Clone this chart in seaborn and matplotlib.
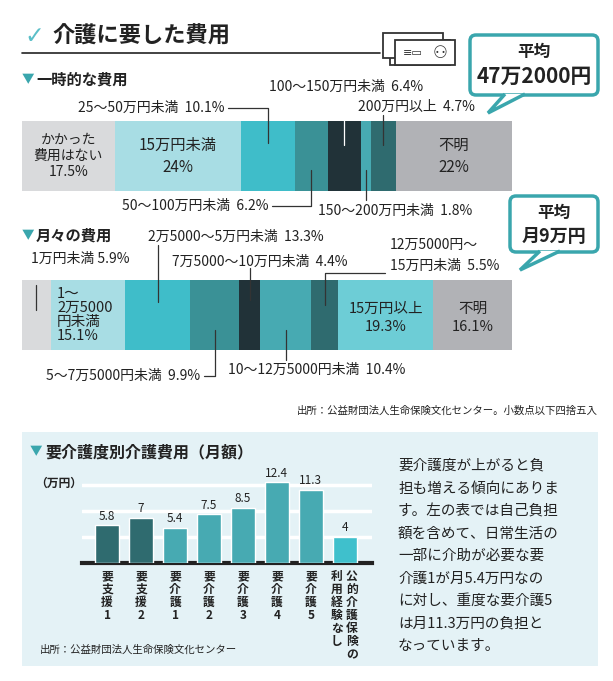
import numpy as np
import matplotlib
matplotlib.use("Agg")
import matplotlib.pyplot as plt
import seaborn as sns
import pandas as pd
from matplotlib.patches import Rectangle, FancyBboxPatch, Polygon

sns.set_theme(style="white")
plt.rcParams['font.family'] = ['Noto Sans CJK JP', 'DejaVu Sans']

W, H = 613, 681

# data
once_labels = ["かかった\n費用はない", "15万円未満", "25～50万円未満", "50～100万円未満", "100～150万円未満",
               "150～200万円未満", "200万円以上", "不明"]
once_vals = [17.5, 24, 10.1, 6.2, 6.4, 1.8, 4.7, 22]
once_colors = ["#d9dadc", "#a8dde4", "#3fbdc9", "#3a9196", "#213238", "#47aab2", "#2f6b6f", "#b1b2b6"]

month_labels = ["1万円未満", "1～2万5000円未満", "2万5000～5万円未満", "5～7万5000円未満", "7万5000～10万円未満",
                "10～12万5000円未満", "12万5000円～15万円未満", "15万円以上", "不明"]
month_vals = [5.9, 15.1, 13.3, 9.9, 4.4, 10.4, 5.5, 19.3, 16.1]
month_colors = ["#d9dadc", "#a8dde4", "#3fbdc9", "#3a9196", "#213238", "#47aab2", "#2f6b6f", "#6dcdd6", "#b1b2b6"]

care_levels = ["要支援1", "要支援2", "要介護1", "要介護2", "要介護3", "要介護4", "要介護5", "公的介護保険の利用経験なし"]
care_cost = [5.8, 7, 5.4, 7.5, 8.5, 12.4, 11.3, 4]
care_colors = ["#2f6b6f", "#2f6b6f", "#47aab2", "#47aab2", "#47aab2", "#47aab2", "#47aab2", "#3fc0cc"]

fig = plt.figure(figsize=(W / 100, H / 100), dpi=100)
fig.patch.set_facecolor("white")


def px_axes(x0, y0, x1, y1, z=1):
    return fig.add_axes([x0 / W, 1 - y1 / H, (x1 - x0) / W, (y1 - y0) / H], zorder=z)


bg = px_axes(0, 0, W, H, 0)
bg.set_xlim(0, W); bg.set_ylim(H, 0); bg.axis("off")
bg.add_patch(Rectangle((22, 432), 576, 234, color="#e4f2f6", lw=0))

ov = px_axes(0, 0, W, H, 10)
ov.set_xlim(0, W); ov.set_ylim(H, 0); ov.axis("off"); ov.patch.set_alpha(0)

TEAL = "#3aa6ad"
TXT = "#222222"

# header
ov.text(24, 36, "✓", fontsize=17, color="#5bbfc8", fontweight="bold", va="center", family=["DejaVu Sans"])
ov.text(52, 36, "介護に要した費用", fontsize=16, fontweight="bold", color=TXT, va="center")
ov.plot([22, 380], [53, 53], color=TXT, lw=1.2)
# card icon
ov.add_patch(Rectangle((390, 40), 60, 25, fill=False, ec="#333", lw=1.3))
ov.add_patch(Rectangle((383, 33), 60, 25, fc="white", ec="#333", lw=1.3))
ov.add_patch(Rectangle((395, 40), 60, 25, fc="white", ec="#333", lw=1.3))
ov.text(413, 53, "≡▭", fontsize=8, color="#333", va="center", ha="center", family=["DejaVu Sans"])
ov.text(440, 53, "⚇", fontsize=12, color="#333", va="center", ha="center", family=["DejaVu Sans"])


def callout(x0, y0, x1, y1, tail, lines):
    ov.add_patch(FancyBboxPatch((x0, y0), x1 - x0, y1 - y0, boxstyle="round,pad=0,rounding_size=6",
                                fc="white", ec=TEAL, lw=2.5))
    ov.add_patch(Polygon(tail, closed=False, fc="white", ec=TEAL, lw=2.5))
    for txt, yy, fs in lines:
        ov.text((x0 + x1) / 2, yy, txt, fontsize=fs, fontweight="bold", ha="center", va="center", color=TXT)


callout(470, 35, 598, 95, [(505, 94), (488, 113), (525, 94)],
        [("平均", 52, 12), ("47万2000円", 76, 15)])
callout(510, 196, 598, 252, [(540, 251), (520, 270), (560, 251)],
        [("平均", 213, 12), ("月9万円", 236, 13)])


def stacked(y0, y1, vals, colors):
    ax = px_axes(22, y0, 512, y1, 2)
    total = sum(vals)
    left = np.cumsum([0] + vals[:-1])
    ax.barh([0] * len(vals), vals, left=left, color=colors, height=1, lw=0)
    ax.set_xlim(0, total); ax.set_ylim(-0.5, 0.5); ax.axis("off")
    centers = [22 + (l + v / 2) / total * 490 for l, v in zip(left, vals)]
    return centers


# one-time costs
ov.text(22, 80, "▼", fontsize=9, color=TEAL, va="center")
ov.text(36, 80, "一時的な費用", fontsize=11, fontweight="bold", color=TXT, va="center")
c1 = stacked(121, 191, once_vals, once_colors)
ov.text(c1[0], 156, "かかった\n費用はない\n17.5%", fontsize=10, ha="center", va="center", color=TXT, linespacing=1.2)
ov.text(c1[1], 156, "15万円未満\n24%", fontsize=11, ha="center", va="center", color=TXT, linespacing=1.4)
ov.text(c1[-1], 156, "不明\n22%", fontsize=11, ha="center", va="center", color=TXT, linespacing=1.4)
fs = 10
ov.text(225, 108, f"{once_labels[2]}  {once_vals[2]}%", fontsize=fs, ha="right", va="center", color=TXT)
ov.plot([228, c1[2], c1[2]], [108, 108, 143], color="#333", lw=0.9)
ov.text(c1[4] + 2, 87, f"{once_labels[4]}  {once_vals[4]}%", fontsize=fs, ha="center", va="center", color=TXT)
ov.plot([c1[4], c1[4]], [95, 145], color="white", lw=0.9)
ov.text(358, 107, f"{once_labels[6]}  {once_vals[6]}%", fontsize=fs, ha="left", va="center", color=TXT)
ov.plot([c1[6], c1[6]], [115, 145], color="#333", lw=0.9)
ov.text(268, 206, f"{once_labels[3]}  {once_vals[3]}%", fontsize=fs, ha="right", va="center", color=TXT)
ov.plot([272, c1[3], c1[3]], [206, 206, 170], color="#333", lw=0.9)
ov.text(318, 211, f"{once_labels[5]}  {once_vals[5]}%", fontsize=fs, ha="left", va="center", color=TXT)
ov.plot([c1[5], c1[5]], [170, 200], color="#333", lw=0.9)

# monthly costs
ov.text(22, 236, "▼", fontsize=9, color=TEAL, va="center")
ov.text(36, 236, "月々の費用", fontsize=11, fontweight="bold", color=TXT, va="center")
c2 = stacked(280, 350, month_vals, month_colors)
ov.text(31, 259, f"{month_labels[0]} {month_vals[0]}%", fontsize=fs, ha="left", va="center", color=TXT)
ov.plot([c2[0], c2[0]], [285, 310], color="#333", lw=0.9)
ov.text(57, 315, "1～\n2万5000\n円未満\n15.1%", fontsize=10.5, ha="left", va="center", color=TXT, linespacing=1.0)
ov.text(148, 237, f"{month_labels[2]}  {month_vals[2]}%", fontsize=fs, ha="left", va="center", color=TXT)
ov.plot([c2[2], c2[2]], [245, 302], color="#333", lw=0.9)
ov.text(172, 262, f"{month_labels[4]}  {month_vals[4]}%", fontsize=fs, ha="left", va="center", color=TXT)
ov.plot([c2[4], c2[4]], [268, 300], color="#333", lw=0.9)
ov.text(390, 245, "12万5000円～", fontsize=fs, ha="left", va="center", color=TXT)
ov.text(390, 266, f"15万円未満  {month_vals[6]}%", fontsize=fs, ha="left", va="center", color=TXT)
ov.plot([385, c2[6], c2[6]], [273, 273, 305], color="#333", lw=0.9)
ov.text(c2[7], 318, "15万円以上\n19.3%", fontsize=10.5, ha="center", va="center", color=TXT, linespacing=1.4)
ov.text(c2[8], 318, "不明\n16.1%", fontsize=10.5, ha="center", va="center", color=TXT, linespacing=1.4)
ov.text(200, 376, f"{month_labels[3]}  {month_vals[3]}%", fontsize=fs, ha="right", va="center", color=TXT)
ov.plot([204, c2[3], c2[3]], [376, 376, 330], color="#333", lw=0.9)
ov.text(228, 370, f"{month_labels[5]}  {month_vals[5]}%", fontsize=fs, ha="left", va="center", color=TXT)
ov.plot([c2[5], c2[5]], [330, 360], color="#333", lw=0.9)

ov.text(598, 411, "出所：公益財団法人生命保険文化センター。小数点以下四捨五入", fontsize=7.5, ha="right", va="center", color=TXT)

# care level chart
ov.text(30, 452, "▼", fontsize=9, color=TEAL, va="center")
ov.text(45, 452, "要介護度別介護費用（月額）", fontsize=11.5, fontweight="bold", color=TXT, va="center")
ov.text(35, 483, "（万円）", fontsize=8.5, color=TXT, va="center", fontweight="bold")

ax = px_axes(82, 470, 372, 563, 2)
ax.patch.set_alpha(0)
df = pd.DataFrame({"level": care_levels, "cost": care_cost})
sns.barplot(data=df, x="level", y="cost", hue="level", palette=care_colors, legend=False,
            width=0.7, ax=ax, zorder=3, saturation=1)
ax.set_xlim(-0.74, 7.8); ax.set_ylim(0, 93 / 6.5)
ax.set_yticks([4, 8, 12])
ax.yaxis.grid(True, color="white", lw=2.5)
ax.set_axisbelow(True)
for s in ["top", "right", "left"]:
    ax.spines[s].set_visible(False)
ax.spines["bottom"].set_color(TXT); ax.spines["bottom"].set_linewidth(3)
ax.set_xlabel(""); ax.set_ylabel("")
ax.set_xticks([]); ax.set_yticklabels([])
ax.tick_params(left=False)
for i, v in enumerate(care_cost):
    ax.text(i, v + 0.4, f"{v:g}", ha="center", va="bottom", fontsize=8.5, color=TXT)

xpx = lambda i: 82 + (i + 0.74) / 8.54 * 290
for i, lab in enumerate(care_levels[:-1]):
    ov.text(xpx(i), 570, "\n".join(lab), fontsize=8.5, fontweight="bold", ha="center", va="top",
            color=TXT, linespacing=1.0)
ov.text(xpx(7) + 7, 570, "\n".join("公的介護保険の"), fontsize=8.5, fontweight="bold", ha="center", va="top",
        color=TXT, linespacing=1.0)
ov.text(xpx(7) - 8, 570, "\n".join("利用経験なし"), fontsize=8.5, fontweight="bold", ha="center", va="top",
        color=TXT, linespacing=1.0)
ov.text(40, 650, "出所：公益財団法人生命保険文化センター", fontsize=7.5, color=TXT, va="center")

body = ["要介護度が上がると負", "担も増える傾向にありま", "す。左の表では自己負担", "額を含めて、日常生活の",
        "一部に介助が必要な要", "介護1が月5.4万円なの", "に対し、重度な要介護5", "は月11.3万円の負担と", "なっています。"]
for k, line in enumerate(body):
    ov.text(398, 466 + k * 22.5, line, fontsize=10.5, color=TXT, va="center")

fig.savefig("out.png", dpi=100)
